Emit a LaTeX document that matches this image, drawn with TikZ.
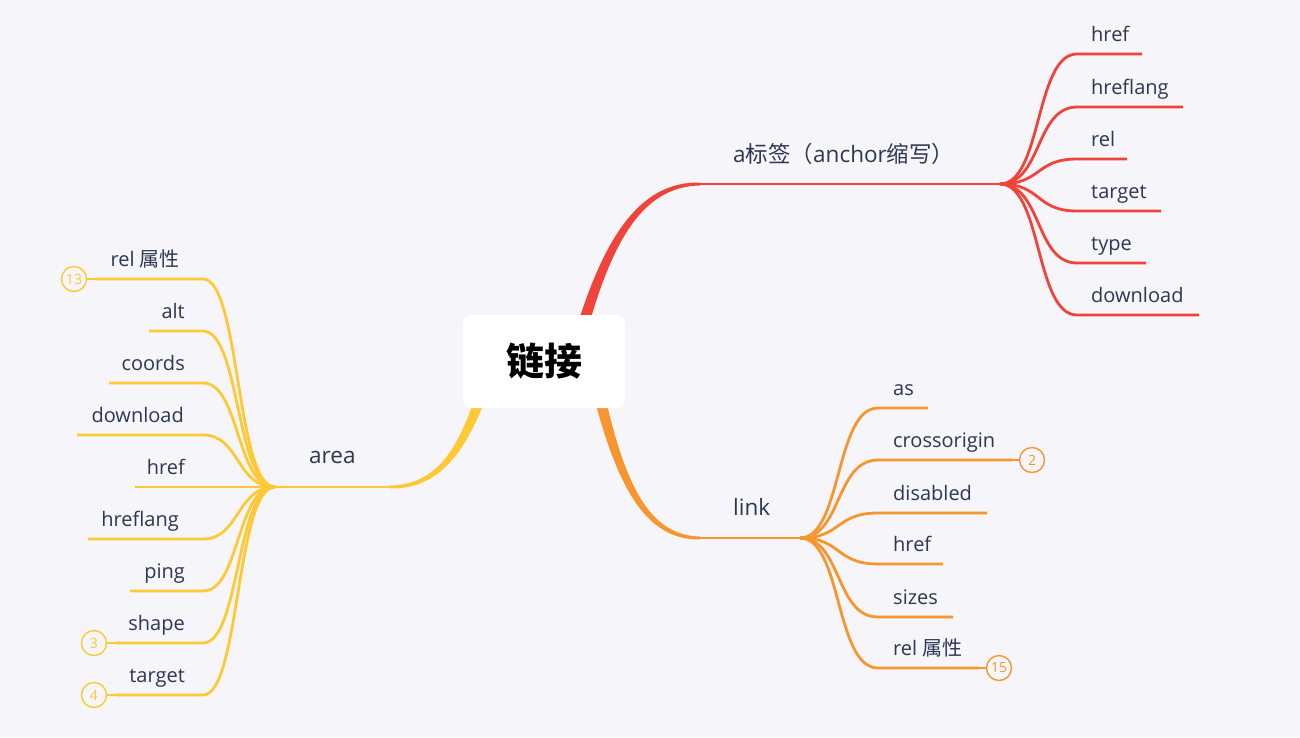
\documentclass[tikz,border=0pt]{standalone}
\usepackage{fontspec}
\setmainfont{Open Sans}
\newfontfamily\cjk{Noto Sans CJK SC}
\definecolor{bg}{HTML}{F5F5FA}
\definecolor{cred}{HTML}{F0443A}
\definecolor{corange}{HTML}{F7962E}
\definecolor{cyellow}{HTML}{FFC935}
\definecolor{ctext}{HTML}{2D3652}
\tikzset{
  lbl/.style={text=ctext, font=\fontsize{20}{24}\selectfont, inner sep=0pt},
  mainlbl/.style={text=ctext, font=\fontsize{22.5}{26}\selectfont, inner sep=0pt, anchor=base west},
  branch/.style={line width=2.8pt},
  badge/.style={circle, draw, line width=1.4pt, minimum size=25pt, inner sep=0pt, font=\fontsize{14}{16}\selectfont},
  thin/.style={line width=1.2pt}
}
\begin{document}
\begin{tikzpicture}[x=1pt,y=-1pt]
\fill[bg] (0,0) rectangle (1300,737);
\useasboundingbox (0,0) rectangle (1300,737);

% fan points
\coordinate (R) at (1000,184);
\coordinate (O) at (800,538);
\coordinate (Y) at (275,487);
\coordinate (Rs) at (700,184);
\coordinate (Os) at (700,538);
\coordinate (Ys) at (390,487);

% tapered main branches
\fill[cred] (567.2,360.3) .. controls (599.8,238.4) and (638.5,181.4) .. (700,182.5) -- (700,185.5) .. controls (641.5,186.6) and (608.2,241.6) .. (578.8,363.7) -- cycle;
\fill[corange] (596.9,358.7) .. controls (619.3,468.8) and (641.9,535.7) .. (700,536.5) -- (700,539.5) .. controls (638.1,540.3) and (610.7,471.2) .. (585.1,361.3) -- cycle;
\fill[cyellow] (497.7,366.9) .. controls (474.3,431.5) and (451.7,489.4) .. (390,488.5) -- (390,485.5) .. controls (448.3,484.6) and (465.7,428.5) .. (486.3,363.1) -- cycle;

\draw[branch, cred] (Rs) -- (R);
\draw[branch, corange] (Os) -- (O);
\draw[branch, cyellow] (Ys) -- (Y);

% central node
\node[fill=white, rounded corners=8pt, minimum width=162pt, minimum height=93pt, inner sep=0pt,
      font=\fontsize{38}{40}\selectfont\cjk\bfseries] (root) at (544,361.5) {链接};

% main labels
\node[mainlbl] (la) at (733,162) {a{\cjk 标签（}anchor{\cjk 缩写）}};
\node[mainlbl] (ll) at (733,515) {link};
\node[mainlbl] (lr) at (309,463) {area};

% red children
\foreach \y/\e/\t [count=\i] in {54/1142/href, 107/1183/hreflang, 159/1127/rel, 211/1161/target, 263/1146/type, 315/1199/download}{
  \coordinate (rc\i) at (1077,\y);
  \coordinate (re\i) at (\e,\y);
  \draw[branch, cred] (R) .. controls (1042,184) and (1035,\y) .. (rc\i) -- (re\i);
  \node[lbl, anchor=base west] (rt\i) at (1091,\y-13) {\t};
}

% orange children
\foreach \y/\e/\t [count=\i] in {408/928/as, 460/1012/crossorigin, 513/987/disabled, 564/943/href, 617/953/sizes, 668/978/{rel {\cjk 属性}}}{
  \coordinate (oc\i) at (878,\y);
  \coordinate (oe\i) at (\e,\y);
  \draw[branch, corange] (O) .. controls (842,538) and (835,\y) .. (oc\i) -- (oe\i);
  \node[lbl, anchor=base west] (ot\i) at (893,\y-13) {\t};
}
\node[badge, draw=corange, text=corange] (b2) at (1032,460) {2};
\draw[thin, corange] (oe2) -- (b2.west);
\node[badge, draw=corange, text=corange] (b15) at (999,668) {15};
\draw[thin, corange] (oe6) -- (b15.west);

% yellow children
\foreach \y/\e/\t/\tx [count=\i] in {279/95/{rel {\cjk 属性}}/180, 331/149/alt/185, 383/109/coords/185, 435/77/download/184, 487/135/href/185, 539/88/hreflang/179, 591/130/ping/185, 643/115/shape/185, 695/115/target/185}{
  \coordinate (yc\i) at (203,\y);
  \coordinate (ye\i) at (\e,\y);
  \draw[branch, cyellow] (Y) .. controls (236,487) and (240,\y) .. (yc\i) -- (ye\i);
  \node[lbl, anchor=base east] (yt\i) at (\tx,\y-13) {\t};
}
\node[badge, draw=cyellow, text=cyellow] (b13) at (74,279) {13};
\draw[thin, cyellow] (ye1) -- (b13.east);
\node[badge, draw=cyellow, text=cyellow] (b3) at (94,643) {3};
\draw[thin, cyellow] (ye8) -- (b3.east);
\node[badge, draw=cyellow, text=cyellow] (b4) at (94,695) {4};
\draw[thin, cyellow] (ye9) -- (b4.east);
\end{tikzpicture}
\end{document}
